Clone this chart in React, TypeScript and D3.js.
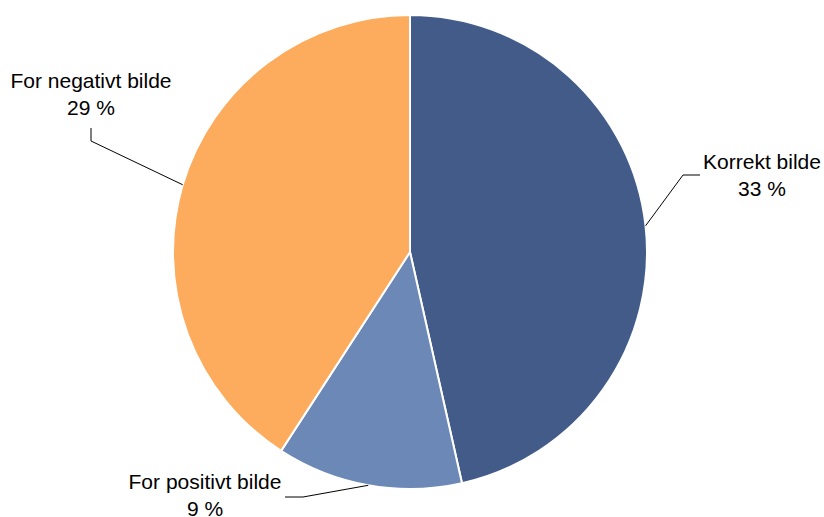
import React from "react";
import * as d3 from "d3";

const categories = ["Korrekt bilde", "For positivt bilde", "For negativt bilde"];
const values = [33, 9, 29];
const valueLabels = ["33 %", "9 %", "29 %"];
const colors = ["#425B88", "#6B88B6", "#FDAB5C"];

// label layout: text center x, first baseline y, leader elbow points
const labelLayout = [
  { tx: 762, ty: 169, elbow: [[700, 175], [683, 175]] },
  { tx: 205, ty: 489, elbow: [[285, 497], [303, 497]] },
  { tx: 91, ty: 88, elbow: [[91, 128], [91, 141]] },
];

export default function App() {
  const W = 824, H = 517;
  const cx = 410, cy = 252, r = 237;
  const pie = d3.pie<number>().sort(null).value((d) => d);
  const arcs = pie(values);
  const arc = d3.arc<d3.PieArcDatum<number>>().innerRadius(0).outerRadius(r);
  return (
    <svg width={W} height={H} style={{ position: "absolute", left: 0, top: 0, background: "#fff" }}>
      <g transform={`translate(${cx},${cy})`}>
        {arcs.map((a, i) => (
          <path key={i} d={arc(a) || ""} fill={colors[i]} stroke="#fff" strokeWidth={2} strokeLinejoin="round" />
        ))}
      </g>
      {arcs.map((a, i) => {
        const mid = (a.startAngle + a.endAngle) / 2;
        const px = cx + r * Math.sin(mid);
        const py = cy - r * Math.cos(mid);
        const L = labelLayout[i];
        const pts = [...L.elbow, [px, py]];
        return (
          <g key={i}>
            <polyline points={pts.map((p) => p.join(",")).join(" ")} fill="none" stroke="#000" strokeWidth={1} />
            <text x={L.tx} y={L.ty} textAnchor="middle" fontFamily="'Liberation Sans', Arial, sans-serif" fontSize={21} fill="#000">
              {categories[i]}
            </text>
            <text x={L.tx} y={L.ty + 27} textAnchor="middle" fontFamily="'Liberation Sans', Arial, sans-serif" fontSize={21} fill="#000">
              {valueLabels[i]}
            </text>
          </g>
        );
      })}
    </svg>
  );
}
